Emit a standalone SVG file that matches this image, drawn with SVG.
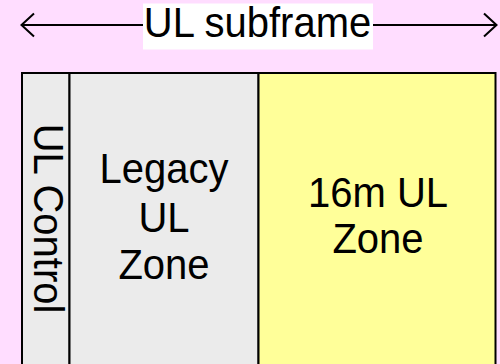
<svg xmlns="http://www.w3.org/2000/svg" width="500" height="364" viewBox="0 0 500 364">
<style>
.t{font-family:"Liberation Sans",Arial,sans-serif;font-size:40px;fill:#000;text-anchor:middle}
.box{stroke:#000;stroke-width:2}
.ln{stroke:#000;stroke-width:2;fill:none}
</style>
<rect x="0" y="0" width="500" height="364" fill="#FFDDFF"/>
<g id="connectors">
<line class="ln" x1="22" y1="25" x2="496" y2="25"/>
<polyline class="ln" points="34,13.5 21.5,25 34,36.5"/>
<polyline class="ln" points="484,13.5 496.5,25 484,36.5"/>
</g>
<g id="title">
<rect x="143" y="3.5" width="230" height="46" fill="#FFFFFF"/>
<text class="t" transform="translate(257.5,37) scale(1,1.06)">UL subframe</text>
</g>
<g id="ul-control">
<rect class="box" x="22" y="73" width="47.5" height="292" fill="#EBEBEB"/>
<text class="t" transform="translate(33.5,218.5) rotate(90) scale(1,1.06)">UL Control</text>
</g>
<g id="legacy-zone">
<rect class="box" x="69.5" y="73" width="189" height="292" fill="#EBEBEB"/>
<text class="t" transform="translate(164,182.7) scale(1,1.06)">Legacy</text>
<text class="t" transform="translate(164,231.5) scale(1,1.06)">UL</text>
<text class="t" transform="translate(164,279.3) scale(1,1.06)">Zone</text>
</g>
<g id="zone-16m">
<rect class="box" x="258.5" y="73" width="237" height="292" fill="#FFFF99"/>
<text class="t" transform="translate(378,206.7) scale(1,1.06)">16m UL</text>
<text class="t" transform="translate(378,253.3) scale(1,1.06)">Zone</text>
</g>
</svg>
